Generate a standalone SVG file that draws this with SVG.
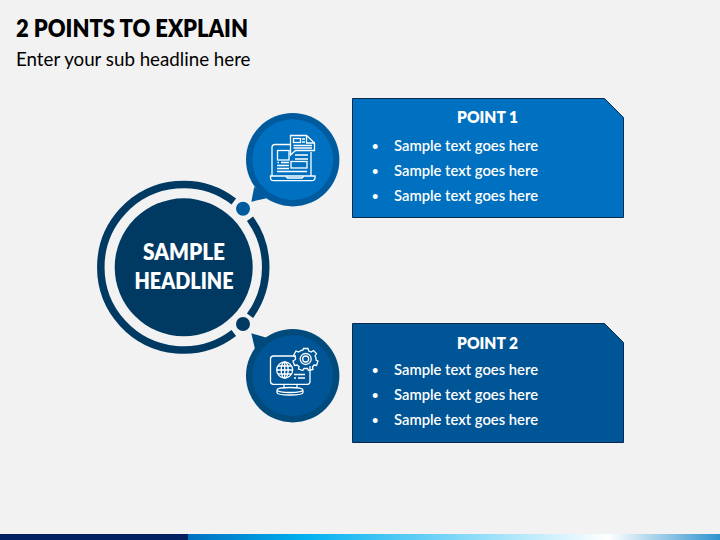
<svg xmlns="http://www.w3.org/2000/svg" width="720" height="540" viewBox="0 0 720 540">
<style>
text{font-family:"Lato","Carlito","Open Sans",sans-serif;fill:#fff}
.h{font-weight:800}
.t{font-weight:800}
.b{font-size:14.6px;font-weight:600}
.d{font-size:11px;font-weight:700}
.i{fill:none;stroke:#fff;stroke-width:1.3}
.box{stroke:#0b2a4f;stroke-width:1}
</style>
<defs>
<linearGradient id="g" x1="188" x2="720" y1="0" y2="0" gradientUnits="userSpaceOnUse">
<stop offset="0" stop-color="#0070c0"/><stop offset=".22" stop-color="#00b0f0"/><stop offset=".79" stop-color="#fff"/><stop offset="1" stop-color="#2e93cf"/>
</linearGradient>
</defs>
<rect width="720" height="540" fill="#f2f2f2"/>
<rect x="0" y="534" width="188" height="6" fill="#002060"/>
<rect x="188" y="534" width="532" height="6" fill="url(#g)"/>
<g id="header">
<text x="16" y="36.500" font-size="24" class="h" style="fill:#000" textLength="232" lengthAdjust="spacingAndGlyphs">2 POINTS TO EXPLAIN</text>
<text x="16" y="65.500" font-size="18.500" style="fill:#000" textLength="234.500" lengthAdjust="spacingAndGlyphs">Enter your sub headline here</text>
</g>
<g id="center">
<path d="M233.800 201.400A82.800 82.800 0 1 0 233.800 333.100" fill="none" stroke="#003a63" stroke-width="7.500"/>
<path d="M250 218.700A82.800 82.800 0 0 1 250 315.800" fill="none" stroke="#003a63" stroke-width="7.500"/>
<circle cx="183.700" cy="267.300" r="69" fill="#003a63"/>
<text x="184" y="260" text-anchor="middle" font-size="23" class="h" textLength="82" lengthAdjust="spacingAndGlyphs">SAMPLE</text>
<text x="184" y="289" text-anchor="middle" font-size="23" class="h" textLength="99" lengthAdjust="spacingAndGlyphs">HEADLINE</text>
</g>
<g id="connectors">
<circle cx="243" cy="208.700" r="7" fill="#005a9e"/>
<circle cx="243" cy="324" r="7" fill="#003a63"/>
</g>
<g id="icon1">
<path d="M251.300 201.700L254.300 186.700L266.700 198.300Z" fill="#005a9e"/>
<circle cx="292.700" cy="159.700" r="46.700" fill="#005a9e"/>
<circle cx="292.700" cy="159.700" r="40.500" fill="#0070c0"/>
<g class="i">
<path d="M290.500 144.500H275Q272 144.500 272 147.500V176M311 152V176"/>
<path d="M272.500 176H270.500V177.500Q270.500 180.700 274 180.700H311.500Q315 180.700 315 177.500V176H272.500Z"/>
<path d="M286 176.500L287.500 178H302L303.500 176.500"/>
<path d="M290.500 135.500H306.500L314.500 143V150.500H295.500L290.500 155Z"/>
<path d="M306.500 135.500V143H314.500"/>
<rect x="293.500" y="138.500" width="7" height="4"/>
<path d="M302 139H305M302 142H305M293.500 145.500H312M293.500 148H312"/>
<rect x="277.500" y="150.500" width="11.500" height="9.500"/>
<rect x="291" y="161.500" width="16" height="6.500"/>
<path d="M295 155H308M295 159H308M277.500 162.500H279M281 162.500H289M277 165.500H289M277 168.500H289M277 171.500H307"/>
</g>
</g>
<g id="icon2">
<path d="M251.300 333.300L266.700 337.700L255 349.300Z" fill="#004a7c"/>
<circle cx="292.700" cy="375.700" r="46.700" fill="#004a7c"/>
<circle cx="292.700" cy="375.700" r="40.500" fill="#005596"/>
<g class="i">
<path d="M296 356H273.500Q270.500 356 270.500 359V381.500Q270.500 384.300 273.500 384.300H307.500Q310 384.300 310 381.500V366"/>
<path d="M284 384.500V388M297 384.500V388"/>
<ellipse cx="290" cy="390" rx="13" ry="2.500"/>
<path d="M277 390.500V392.500Q277 395 290 395Q303 395 303 392.500V390.500"/>
<circle cx="284.700" cy="370" r="8"/>
<ellipse cx="284.700" cy="370" rx="3.500" ry="8"/>
<path d="M276.700 370H292.700M278 366H291.500M278 374H291.500M284.700 362V378"/>
<path d="M294 374.500H305M294 378H296M298 378H305"/>
<circle cx="305.700" cy="359" r="5.500"/>
<circle cx="305.700" cy="359" r="3"/>
<path d="M303.500 348.500H308L308.800 351L311.200 352L313.500 350.500L316.500 353.500L315 356L316 358V360L318 361L316.500 365.500L314 365L312.500 367L313 369.500L308.500 370.500L307.500 368.500H304L302.800 370.500L298.500 369L299 366.500L297 365L294.500 365.500L293 361L295.500 359.500V357.500L293.500 355.500L296 351L298.500 352L301 350.500L303 350Z"/>
</g>
</g>
<g id="point1">
<path class="box" d="M352.500 98.500H604.500L623.500 117.500V217.500H352.500Z" fill="#0070c0"/>
<text x="487.500" y="122.500" text-anchor="middle" class="t" font-size="16.500" textLength="61" lengthAdjust="spacingAndGlyphs">POINT 1</text>
<text x="372" y="149.500" class="d">•</text><text x="394" y="150.500" class="b" textLength="144" lengthAdjust="spacingAndGlyphs">Sample text goes here</text>
<text x="372" y="174.500" class="d">•</text><text x="394" y="175.500" class="b" textLength="144" lengthAdjust="spacingAndGlyphs">Sample text goes here</text>
<text x="372" y="199.500" class="d">•</text><text x="394" y="200.500" class="b" textLength="144" lengthAdjust="spacingAndGlyphs">Sample text goes here</text>
</g>
<g id="point2">
<path class="box" d="M352.500 323.500H604.500L623.500 342.500V442.500H352.500Z" fill="#005596"/>
<text x="487.500" y="348.500" text-anchor="middle" class="t" font-size="16.500" textLength="61" lengthAdjust="spacingAndGlyphs">POINT 2</text>
<text x="372" y="374" class="d">•</text><text x="394" y="375" class="b" textLength="144" lengthAdjust="spacingAndGlyphs">Sample text goes here</text>
<text x="372" y="399" class="d">•</text><text x="394" y="400" class="b" textLength="144" lengthAdjust="spacingAndGlyphs">Sample text goes here</text>
<text x="372" y="424" class="d">•</text><text x="394" y="425" class="b" textLength="144" lengthAdjust="spacingAndGlyphs">Sample text goes here</text>
</g>
</svg>
